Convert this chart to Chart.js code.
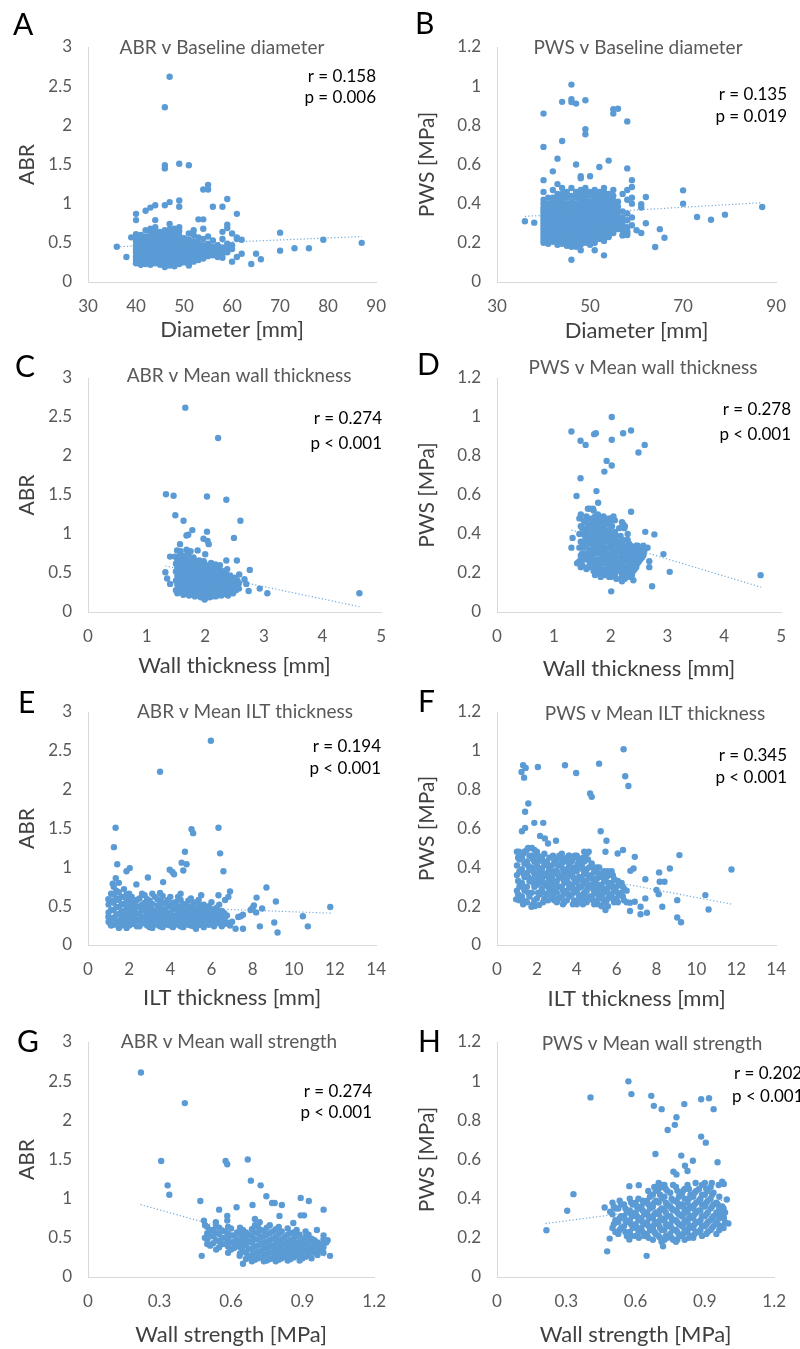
<!DOCTYPE html>
<html>
<head>
<meta charset="utf-8">
<script src="https://cdn.jsdelivr.net/npm/chart.js@4.4.1/dist/chart.umd.min.js"></script>
<style>
  html, body { margin: 0; padding: 0; background: #fff; overflow: hidden; }
  body { width: 800px; height: 1349px; position: relative; }
  canvas { position: absolute; }
</style>
</head>
<body>
<script>
// ---- tick labels ----
const abrTicks = [0, 0.5, 1, 1.5, 2, 2.5, 3];
const pwsTicks = [0, 0.2, 0.4, 0.6, 0.8, 1, 1.2];
const diameterTicksA = [30, 40, 50, 60, 70, 80, 90];
const diameterTicksB = [30, 50, 70, 90];
const wallTicks = [0, 1, 2, 3, 4, 5];
const iltTicks = [0, 2, 4, 6, 8, 10, 12, 14];
const strengthTicks = [0, 0.3, 0.6, 0.9, 1.2];

// ---- A: ABR v diameter (rows: diameter, ABR values) ----
const abrDiameterRows = [
  [40, [0.24, 0.28, 0.33, 0.38, 0.42, 0.47, 0.52, 0.57, 0.61]],
  [41, [0.22, 0.26, 0.31, 0.35, 0.40, 0.45, 0.50, 0.55, 0.60]],
  [42, [0.23, 0.27, 0.30, 0.36, 0.41, 0.44, 0.49, 0.54, 0.58, 0.66]],
  [43, [0.22, 0.25, 0.29, 0.34, 0.39, 0.43, 0.48, 0.53, 0.63, 0.68]],
  [44, [0.24, 0.28, 0.32, 0.37, 0.41, 0.46, 0.51, 0.56, 0.62, 0.70]],
  [45, [0.22, 0.26, 0.30, 0.35, 0.40, 0.44, 0.50, 0.57, 0.64]],
  [46, [0.24, 0.29, 0.33, 0.38, 0.42, 0.47, 0.52, 0.58, 0.66]],
  [47, [0.21, 0.25, 0.30, 0.36, 0.41, 0.45, 0.49, 0.55, 0.61, 0.67]],
  [48, [0.26, 0.31, 0.35, 0.40, 0.46, 0.51, 0.56, 0.62, 0.68]],
  [49, [0.23, 0.27, 0.33, 0.38, 0.43, 0.48, 0.53, 0.59, 0.65, 0.70]],
  [50, [0.25, 0.29, 0.34, 0.40, 0.44, 0.50, 0.56]],
  [51, [0.27, 0.32, 0.37, 0.42, 0.47, 0.54, 0.62]],
  [52, [0.26, 0.31, 0.36, 0.41, 0.46, 0.52, 0.60, 0.66]],
  [53, [0.28, 0.34, 0.39, 0.44, 0.50, 0.57]],
  [54, [0.30, 0.35, 0.40, 0.47, 0.55, 0.68]],
  [55, [0.33, 0.38, 0.43, 0.49, 0.58]],
  [56, [0.34, 0.40, 0.45, 0.53]],
  [57, [0.32, 0.37, 0.42, 0.47]],
  [58, [0.36, 0.41, 0.44, 0.55, 0.64]],
  [59, [0.38, 0.44, 0.49, 0.69]],
  [60, [0.42, 0.47]],
  [61, [0.55]]
];
const abrDiameterRows2 = [
  [40, [0.31, 0.45, 0.55]],
  [41, [0.29, 0.38, 0.48]],
  [42, [0.25, 0.33, 0.47, 0.52]],
  [43, [0.31, 0.37, 0.46, 0.58]],
  [44, [0.26, 0.35, 0.44, 0.66]],
  [45, [0.24, 0.33, 0.38, 0.47, 0.54]],
  [46, [0.27, 0.36, 0.45, 0.62]],
  [47, [0.28, 0.39, 0.52, 0.58]],
  [48, [0.23, 0.29, 0.38, 0.44, 0.54]],
  [49, [0.30, 0.36, 0.46, 0.56]],
  [50, [0.27, 0.37, 0.47]],
  [51, [0.24, 0.35, 0.45]],
  [52, [0.29, 0.39, 0.49]],
  [53, [0.31, 0.42, 0.47]],
  [54, [0.33, 0.38, 0.44]],
  [55, [0.36, 0.41, 0.46]]
];
const abrDiameterExtra = [
  [47, 2.62], [46, 2.23], [46, 1.49], [46, 1.45], [49, 1.51], [51, 1.49], [55, 1.24], [54, 1.18],
  [55, 1.18], [59, 1.06], [49, 1.04], [49, 0.96], [47, 1.02], [46, 0.98], [44, 0.98], [43, 0.95],
  [42, 0.91], [40, 0.87], [40, 0.79], [56, 0.96], [58, 0.96], [61, 0.87], [53, 0.80], [54, 0.80],
  [44, 0.79], [59, 0.73], [47, 0.74], [70, 0.63], [79, 0.54], [87, 0.50], [36, 0.45], [38, 0.32],
  [70, 0.40], [73, 0.43], [76, 0.43], [65, 0.36], [66, 0.29], [64, 0.23], [60, 0.26], [61, 0.32],
  [62, 0.36], [58, 0.31], [60, 0.62], [61, 0.57], [62, 0.54], [46, 0.19], [48, 0.20], [51, 0.21],
  [39, 0.57]
];
const abrDiameterTrend = [[36, 0.45], [87, 0.58]];

// ---- B: PWS v diameter ----
const pwsDiameterRows = [
  [40, [0.20, 0.23, 0.26, 0.29, 0.32, 0.35, 0.38, 0.40, 0.46]],
  [41, [0.21, 0.24, 0.27, 0.31, 0.34, 0.37, 0.40]],
  [42, [0.22, 0.25, 0.28, 0.30, 0.33, 0.36, 0.39, 0.43, 0.47]],
  [43, [0.19, 0.23, 0.26, 0.29, 0.32, 0.35, 0.38, 0.42, 0.50]],
  [44, [0.21, 0.24, 0.27, 0.30, 0.33, 0.37, 0.41, 0.45]],
  [45, [0.20, 0.23, 0.26, 0.29, 0.31, 0.34, 0.38, 0.43]],
  [46, [0.18, 0.22, 0.25, 0.28, 0.31, 0.35, 0.39, 0.44, 0.48]],
  [47, [0.18, 0.21, 0.24, 0.27, 0.30, 0.33, 0.36, 0.40, 0.46]],
  [48, [0.19, 0.22, 0.26, 0.29, 0.32, 0.35, 0.38, 0.42, 0.47]],
  [49, [0.20, 0.23, 0.25, 0.28, 0.31, 0.34, 0.37, 0.41, 0.45, 0.48]],
  [50, [0.19, 0.22, 0.26, 0.29, 0.32, 0.36, 0.39, 0.44]],
  [51, [0.20, 0.24, 0.27, 0.30, 0.34, 0.38, 0.42, 0.47]],
  [52, [0.22, 0.25, 0.29, 0.33, 0.37, 0.41, 0.46]],
  [53, [0.21, 0.26, 0.30, 0.34, 0.39, 0.44, 0.48]],
  [54, [0.23, 0.28, 0.32, 0.36, 0.40, 0.45]],
  [55, [0.25, 0.30, 0.35, 0.39, 0.44, 0.47]],
  [56, [0.27, 0.31, 0.36, 0.41]],
  [57, [0.24, 0.29, 0.33, 0.45]],
  [58, [0.24, 0.28, 0.35, 0.42, 0.47]],
  [59, [0.33, 0.40, 0.43]]
];
const pwsDiameterRows2 = [
  [40, [0.215, 0.245, 0.275, 0.305, 0.335, 0.365, 0.42]],
  [41, [0.195, 0.225, 0.255, 0.29, 0.325, 0.355, 0.385, 0.43]],
  [42, [0.205, 0.235, 0.265, 0.315, 0.345, 0.375, 0.41]],
  [43, [0.21, 0.245, 0.275, 0.305, 0.335, 0.365, 0.40, 0.45]],
  [44, [0.195, 0.225, 0.255, 0.285, 0.315, 0.35, 0.39, 0.43, 0.48]],
  [45, [0.185, 0.215, 0.245, 0.275, 0.30, 0.325, 0.36, 0.40, 0.46]],
  [46, [0.20, 0.235, 0.265, 0.295, 0.33, 0.37, 0.41]],
  [47, [0.195, 0.225, 0.255, 0.285, 0.315, 0.345, 0.38, 0.43]],
  [48, [0.205, 0.24, 0.275, 0.305, 0.335, 0.365, 0.40, 0.445]],
  [49, [0.215, 0.24, 0.265, 0.295, 0.325, 0.355, 0.39, 0.43, 0.465]],
  [50, [0.205, 0.24, 0.275, 0.305, 0.34, 0.375, 0.41, 0.46]],
  [51, [0.22, 0.255, 0.285, 0.32, 0.36, 0.40, 0.445]],
  [52, [0.235, 0.27, 0.31, 0.35, 0.39, 0.435]],
  [53, [0.235, 0.28, 0.32, 0.365, 0.415, 0.46]],
  [54, [0.255, 0.30, 0.34, 0.38, 0.425]],
  [55, [0.275, 0.325, 0.37, 0.415]],
  [56, [0.29, 0.335, 0.385]],
  [57, [0.265, 0.31, 0.36]],
  [58, [0.26, 0.315]]
];
const pwsDiameterExtra = [
  [46, 1.008], [44, 0.92], [46, 0.933], [46, 0.919], [47, 0.911], [49, 0.928], [40, 0.86], [55, 0.882],
  [56, 0.885], [55, 0.86], [58, 0.82], [49, 0.78], [49, 0.754], [44, 0.72], [40, 0.69], [43, 0.63],
  [47, 0.60], [54, 0.62], [52, 0.587], [42, 0.565], [58, 0.58], [40, 0.52], [48, 0.54], [48, 0.53],
  [50, 0.54], [70, 0.468], [70, 0.40], [62, 0.434], [59, 0.52], [59, 0.485], [61, 0.397], [61, 0.38],
  [73, 0.332], [76, 0.318], [79, 0.344], [87, 0.383], [65, 0.27], [66, 0.226], [64, 0.179], [62, 0.30],
  [61, 0.25], [60, 0.264], [36, 0.31], [38, 0.303], [46, 0.114], [53, 0.136], [51, 0.162], [48, 0.162],
  [54, 0.238], [57, 0.238], [58, 0.25], [59, 0.29]
];
const pwsDiameterTrend = [[36, 0.335], [87, 0.405]];

// ---- C: ABR v wall thickness ----
const abrWallRows = [
  [1.50, [0.28, 0.40, 0.52, 0.62]],
  [1.55, [0.32, 0.45, 0.58, 0.70]],
  [1.60, [0.26, 0.36, 0.48, 0.55, 0.66]],
  [1.65, [0.30, 0.41, 0.50, 0.60, 0.72]],
  [1.70, [0.24, 0.34, 0.44, 0.53, 0.63, 0.76]],
  [1.75, [0.27, 0.37, 0.46, 0.56, 0.68]],
  [1.80, [0.22, 0.31, 0.40, 0.49, 0.58, 0.70]],
  [1.85, [0.25, 0.33, 0.42, 0.51, 0.62]],
  [1.90, [0.21, 0.29, 0.38, 0.46, 0.55, 0.66]],
  [1.95, [0.24, 0.32, 0.41, 0.49, 0.58]],
  [2.00, [0.18, 0.27, 0.35, 0.44, 0.52, 0.61]],
  [2.05, [0.22, 0.30, 0.38, 0.47, 0.56]],
  [2.10, [0.20, 0.28, 0.36, 0.43, 0.51, 0.63]],
  [2.15, [0.24, 0.32, 0.40, 0.48, 0.57]],
  [2.20, [0.21, 0.29, 0.37, 0.45, 0.54]],
  [2.25, [0.26, 0.34, 0.42, 0.50, 0.60]],
  [2.30, [0.23, 0.31, 0.39, 0.46]],
  [2.35, [0.27, 0.35, 0.43, 0.52]],
  [2.40, [0.24, 0.30, 0.38, 0.45]],
  [2.45, [0.28, 0.34, 0.41]],
  [2.50, [0.31, 0.37, 0.44]],
  [2.55, [0.33, 0.40]]
];
const abrWallRows2 = [
  [1.525, [0.24, 0.35, 0.46, 0.57, 0.67]],
  [1.575, [0.29, 0.39, 0.51, 0.62, 0.74]],
  [1.625, [0.22, 0.33, 0.44, 0.53, 0.64]],
  [1.675, [0.27, 0.37, 0.47, 0.57, 0.68]],
  [1.725, [0.21, 0.30, 0.40, 0.50, 0.60, 0.71]],
  [1.775, [0.25, 0.34, 0.43, 0.52, 0.63]],
  [1.825, [0.20, 0.28, 0.37, 0.45, 0.55, 0.66]],
  [1.875, [0.23, 0.31, 0.40, 0.48, 0.58]],
  [1.925, [0.19, 0.27, 0.35, 0.43, 0.52, 0.62]],
  [1.975, [0.22, 0.30, 0.38, 0.46, 0.55, 0.65]],
  [2.025, [0.20, 0.25, 0.33, 0.41, 0.50, 0.59]],
  [2.075, [0.19, 0.27, 0.35, 0.43, 0.53]],
  [2.125, [0.23, 0.31, 0.39, 0.46, 0.55]],
  [2.175, [0.20, 0.27, 0.35, 0.43, 0.52, 0.61]],
  [2.225, [0.24, 0.32, 0.40, 0.48, 0.57]],
  [2.275, [0.21, 0.29, 0.37, 0.44, 0.53]],
  [2.325, [0.25, 0.33, 0.41, 0.49]],
  [2.375, [0.22, 0.29, 0.36, 0.44, 0.55]],
  [2.425, [0.26, 0.32, 0.39, 0.47]],
  [2.475, [0.24, 0.30, 0.36, 0.42]],
  [2.525, [0.28, 0.35, 0.41]],
  [2.575, [0.30, 0.37]]
];
const abrWallExtra = [
  [1.66, 2.62], [2.22, 2.23], [1.33, 1.51], [1.46, 1.49], [2.03, 1.48], [2.36, 1.44], [1.49, 1.24],
  [1.63, 1.17], [2.60, 1.17], [1.78, 1.05], [1.71, 0.99], [1.68, 0.98], [2.03, 1.03], [1.57, 0.87],
  [1.97, 0.94], [2.04, 0.91], [2.06, 0.87], [2.49, 0.95], [2.00, 0.74], [1.87, 0.79], [1.40, 0.71],
  [1.48, 0.71], [2.36, 0.66], [2.54, 0.66], [2.76, 0.54], [1.32, 0.51], [1.35, 0.43], [1.40, 0.36],
  [2.58, 0.48], [2.67, 0.42], [2.70, 0.36], [2.74, 0.27], [2.93, 0.30], [3.06, 0.24], [4.63, 0.24],
  [1.99, 0.16], [2.39, 0.21], [1.52, 0.79], [1.58, 0.78], [1.75, 0.78], [1.68, 0.80]
];
const abrWallTrend = [[1.32, 0.59], [4.65, 0.065]];

// ---- D: PWS v wall thickness ----
const pwsWallRows = [
  [1.45, [0.26, 0.33, 0.40, 0.48]],
  [1.50, [0.24, 0.30, 0.36, 0.43]],
  [1.55, [0.27, 0.34, 0.39, 0.46]],
  [1.60, [0.23, 0.29, 0.35, 0.41, 0.48, 0.53]],
  [1.65, [0.25, 0.31, 0.37, 0.44]],
  [1.70, [0.21, 0.27, 0.33, 0.39, 0.46, 0.52]],
  [1.75, [0.24, 0.30, 0.35, 0.41, 0.47]],
  [1.80, [0.20, 0.26, 0.32, 0.38, 0.44, 0.49]],
  [1.85, [0.22, 0.28, 0.34, 0.40, 0.46]],
  [1.90, [0.19, 0.25, 0.30, 0.36, 0.42, 0.48]],
  [1.95, [0.21, 0.27, 0.33, 0.39, 0.45]],
  [2.00, [0.18, 0.24, 0.29, 0.35, 0.40, 0.47]],
  [2.05, [0.20, 0.26, 0.31, 0.37, 0.49]],
  [2.10, [0.17, 0.23, 0.28, 0.34, 0.39]],
  [2.15, [0.21, 0.26, 0.32, 0.43]],
  [2.20, [0.19, 0.24, 0.30, 0.36, 0.46]],
  [2.25, [0.17, 0.22, 0.28, 0.33, 0.44]],
  [2.30, [0.20, 0.26, 0.31, 0.37, 0.40]],
  [2.35, [0.18, 0.24, 0.29, 0.34]],
  [2.40, [0.21, 0.27, 0.32]],
  [2.45, [0.23, 0.29, 0.34]],
  [2.50, [0.26, 0.31]],
  [2.55, [0.28, 0.33]],
  [2.60, [0.32]]
];
const pwsWallRows2 = [
  [1.475, [0.23, 0.29, 0.36, 0.44, 0.50]],
  [1.525, [0.27, 0.33, 0.40, 0.47]],
  [1.575, [0.22, 0.30, 0.36, 0.43, 0.49]],
  [1.625, [0.26, 0.32, 0.38, 0.45]],
  [1.675, [0.23, 0.29, 0.35, 0.41, 0.48]],
  [1.725, [0.19, 0.25, 0.31, 0.37, 0.43, 0.49]],
  [1.775, [0.22, 0.27, 0.33, 0.38, 0.44, 0.50]],
  [1.825, [0.18, 0.24, 0.30, 0.35, 0.41, 0.47]],
  [1.875, [0.20, 0.26, 0.32, 0.37, 0.43, 0.49]],
  [1.925, [0.22, 0.28, 0.33, 0.39, 0.45]],
  [1.975, [0.18, 0.24, 0.30, 0.36, 0.42, 0.48]],
  [2.025, [0.21, 0.27, 0.33, 0.38, 0.44]],
  [2.075, [0.19, 0.25, 0.30, 0.35, 0.41, 0.47]],
  [2.125, [0.21, 0.26, 0.31, 0.36]],
  [2.175, [0.17, 0.23, 0.28, 0.34, 0.39]],
  [2.225, [0.20, 0.26, 0.31, 0.37]],
  [2.275, [0.18, 0.23, 0.29, 0.34]],
  [2.325, [0.21, 0.27, 0.32, 0.35]],
  [2.375, [0.19, 0.25, 0.30]],
  [2.425, [0.22, 0.28, 0.33]],
  [2.475, [0.25, 0.30, 0.34]],
  [2.525, [0.27, 0.32]],
  [2.575, [0.29, 0.34]]
];
const pwsWallExtra = [
  [2.02, 1.0], [1.31, 0.926], [1.47, 0.878], [1.56, 0.857], [1.71, 0.912], [1.74, 0.917], [2.02, 0.883],
  [2.22, 0.917], [2.36, 0.931], [2.60, 0.857], [2.49, 0.818], [1.93, 0.775], [2.02, 0.751], [1.89, 0.72],
  [1.47, 0.686], [1.75, 0.62], [1.40, 0.595], [1.78, 0.56], [1.63, 0.53], [1.69, 0.53], [2.36, 0.514],
  [2.61, 0.411], [2.77, 0.398], [2.93, 0.297], [2.68, 0.26], [2.68, 0.23], [3.04, 0.206], [4.64, 0.189],
  [2.73, 0.132], [2.01, 0.106], [2.40, 0.163], [2.20, 0.158], [1.33, 0.38], [1.31, 0.33], [1.41, 0.25],
  [1.46, 0.26], [2.22, 0.45], [2.24, 0.43], [2.65, 0.33], [2.58, 0.30]
];
const pwsWallTrend = [[1.31, 0.42], [4.65, 0.127]];

// ---- E: ABR v ILT thickness ----
const abrIltRows = [
  [1.00, [0.30, 0.42, 0.52]],
  [1.25, [0.26, 0.35, 0.45, 0.55, 0.65, 0.75]],
  [1.50, [0.22, 0.31, 0.40, 0.49, 0.58, 0.68, 0.80]],
  [1.75, [0.28, 0.36, 0.44, 0.53, 0.62, 0.72]],
  [2.00, [0.25, 0.33, 0.41, 0.50, 0.59, 0.66]],
  [2.25, [0.29, 0.37, 0.46, 0.55]],
  [2.50, [0.24, 0.32, 0.40, 0.49, 0.60]],
  [2.75, [0.28, 0.36, 0.45, 0.54, 0.64]],
  [3.00, [0.23, 0.31, 0.39, 0.48, 0.57]],
  [3.25, [0.27, 0.35, 0.44, 0.62]],
  [3.50, [0.24, 0.32, 0.40, 0.49, 0.58, 0.67]],
  [3.75, [0.28, 0.36, 0.45, 0.54]],
  [4.00, [0.25, 0.33, 0.41, 0.50, 0.62]],
  [4.25, [0.29, 0.37, 0.46, 0.55]],
  [4.50, [0.24, 0.32, 0.40, 0.48, 0.58, 0.66]],
  [4.75, [0.27, 0.35, 0.43, 0.52]],
  [5.00, [0.25, 0.33, 0.40, 0.49, 0.60]],
  [5.25, [0.21, 0.29, 0.37, 0.45, 0.55]],
  [5.50, [0.26, 0.34, 0.42, 0.51, 0.64]],
  [5.75, [0.30, 0.38, 0.47]],
  [6.00, [0.27, 0.35, 0.43, 0.55]],
  [6.25, [0.31, 0.39, 0.48]],
  [6.50, [0.24, 0.34, 0.44]],
  [6.75, [0.29, 0.38]]
];
const abrIltRows2 = [
  [1.125, [0.25, 0.34, 0.45, 0.57, 0.66]],
  [1.375, [0.29, 0.39, 0.49, 0.60, 0.70]],
  [1.625, [0.25, 0.34, 0.43, 0.52, 0.62]],
  [1.875, [0.22, 0.30, 0.39, 0.47, 0.57, 0.65]],
  [2.125, [0.27, 0.35, 0.44, 0.53, 0.62]],
  [2.375, [0.24, 0.32, 0.41, 0.50, 0.58]],
  [2.625, [0.28, 0.36, 0.44, 0.52, 0.66]],
  [2.875, [0.25, 0.33, 0.41, 0.50, 0.59]],
  [3.125, [0.22, 0.29, 0.37, 0.45, 0.53, 0.66]],
  [3.375, [0.26, 0.34, 0.42, 0.51, 0.59]],
  [3.625, [0.23, 0.30, 0.38, 0.46, 0.55, 0.63]],
  [3.875, [0.26, 0.34, 0.42, 0.50, 0.58]],
  [4.125, [0.23, 0.30, 0.38, 0.46, 0.54]],
  [4.375, [0.26, 0.34, 0.42, 0.50, 0.62]],
  [4.625, [0.23, 0.30, 0.37, 0.45, 0.53]],
  [4.875, [0.26, 0.33, 0.41, 0.48, 0.57]],
  [5.125, [0.24, 0.31, 0.38, 0.46, 0.53]],
  [5.375, [0.26, 0.33, 0.40, 0.48, 0.58]],
  [5.625, [0.23, 0.30, 0.37, 0.44, 0.52]],
  [5.875, [0.26, 0.33, 0.40, 0.50]],
  [6.125, [0.24, 0.31, 0.38, 0.46]],
  [6.375, [0.28, 0.35, 0.42, 0.52]],
  [6.625, [0.27, 0.34, 0.41]]
];
const abrIltExtra = [
  [5.97, 2.63], [3.50, 2.23], [1.34, 1.51], [1.26, 1.26], [5.03, 1.49], [5.11, 1.44], [6.34, 1.51],
  [6.42, 1.18], [4.71, 1.20], [1.42, 1.04], [4.55, 1.06], [4.79, 1.04], [6.58, 0.95], [1.87, 0.95],
  [2.03, 0.99], [3.97, 0.97], [4.10, 0.94], [4.18, 0.91], [4.63, 0.96], [2.91, 0.87], [3.65, 0.81],
  [2.35, 0.78], [8.67, 0.74], [9.13, 0.56], [11.77, 0.49], [10.44, 0.37], [10.68, 0.24], [9.21, 0.16],
  [9.05, 0.29], [8.35, 0.24], [8.46, 0.47], [8.19, 0.61], [8.06, 0.51], [8.17, 0.42], [7.53, 0.39],
  [7.42, 0.37], [7.30, 0.36], [7.53, 0.21], [7.17, 0.21], [6.90, 0.69], [6.82, 0.62], [6.66, 0.58],
  [6.34, 0.64], [0.99, 0.59], [0.99, 0.36], [1.07, 0.28], [1.35, 0.86], [1.20, 0.79], [7.90, 0.45],
  [8.00, 0.48], [7.00, 0.30], [6.90, 0.25]
];
const abrIltTrend = [[1.0, 0.515], [11.8, 0.41]];

// ---- F: PWS v ILT thickness ----
const pwsIltRows = [
  [1.00, [0.28, 0.36, 0.41, 0.48]],
  [1.25, [0.25, 0.32, 0.39, 0.45]],
  [1.50, [0.22, 0.30, 0.37, 0.43, 0.49]],
  [1.75, [0.27, 0.34, 0.40, 0.46, 0.50]],
  [2.00, [0.24, 0.31, 0.36, 0.42, 0.48]],
  [2.25, [0.29, 0.34, 0.39, 0.45]],
  [2.50, [0.26, 0.32, 0.37, 0.43]],
  [2.75, [0.24, 0.30, 0.35, 0.41]],
  [3.00, [0.22, 0.27, 0.33, 0.38, 0.44]],
  [3.25, [0.25, 0.30, 0.36, 0.42, 0.47]],
  [3.50, [0.23, 0.28, 0.34, 0.39, 0.45]],
  [3.75, [0.26, 0.31, 0.37, 0.43]],
  [4.00, [0.21, 0.27, 0.32, 0.38, 0.46]],
  [4.25, [0.24, 0.30, 0.35, 0.41]],
  [4.50, [0.22, 0.28, 0.33, 0.39, 0.47]],
  [4.75, [0.25, 0.31, 0.36, 0.42]],
  [5.00, [0.23, 0.28, 0.34, 0.40]],
  [5.25, [0.20, 0.26, 0.31, 0.37]],
  [5.50, [0.23, 0.29, 0.35]],
  [5.75, [0.26, 0.32, 0.38]],
  [6.00, [0.24, 0.30]],
  [6.25, [0.27, 0.32]],
  [6.50, [0.22, 0.28]]
];
const pwsIltRows2 = [
  [1.125, [0.23, 0.30, 0.38, 0.44]],
  [1.375, [0.28, 0.35, 0.42, 0.48]],
  [1.625, [0.25, 0.33, 0.39, 0.46]],
  [1.875, [0.23, 0.30, 0.37, 0.43, 0.49]],
  [2.125, [0.26, 0.32, 0.38, 0.44]],
  [2.375, [0.24, 0.31, 0.36, 0.41, 0.47]],
  [2.625, [0.28, 0.34, 0.39, 0.45]],
  [2.875, [0.23, 0.28, 0.33, 0.38, 0.43]],
  [3.125, [0.24, 0.30, 0.35, 0.41, 0.46]],
  [3.375, [0.22, 0.27, 0.32, 0.37, 0.43]],
  [3.625, [0.25, 0.30, 0.36, 0.41, 0.46]],
  [3.875, [0.23, 0.28, 0.34, 0.40, 0.45]],
  [4.125, [0.25, 0.30, 0.35, 0.40, 0.44]],
  [4.375, [0.23, 0.27, 0.32, 0.37, 0.43, 0.48]],
  [4.625, [0.25, 0.30, 0.35, 0.40]],
  [4.875, [0.21, 0.27, 0.32, 0.38]],
  [5.125, [0.24, 0.29, 0.35, 0.40]],
  [5.375, [0.22, 0.27, 0.33, 0.38]],
  [5.625, [0.25, 0.30, 0.36]],
  [5.875, [0.22, 0.28, 0.34]],
  [6.125, [0.26, 0.31]],
  [6.375, [0.23, 0.29]]
];
const pwsIltRows3 = [
  [1.06, [0.26, 0.33, 0.45]],
  [1.31, [0.21, 0.30, 0.37, 0.47]],
  [1.56, [0.27, 0.35, 0.41, 0.50]],
  [1.81, [0.21, 0.32, 0.38, 0.44]],
  [2.06, [0.27, 0.34, 0.40, 0.46]],
  [2.31, [0.22, 0.27, 0.36, 0.43]],
  [2.56, [0.23, 0.30, 0.35, 0.41]],
  [2.81, [0.26, 0.32, 0.37, 0.46]],
  [3.06, [0.24, 0.30, 0.36, 0.41]],
  [3.31, [0.21, 0.28, 0.34, 0.39, 0.44]],
  [3.56, [0.26, 0.32, 0.37, 0.43]],
  [3.81, [0.21, 0.29, 0.35, 0.39]],
  [4.06, [0.23, 0.29, 0.34, 0.42]],
  [4.31, [0.21, 0.26, 0.33, 0.39, 0.45]],
  [4.56, [0.24, 0.30, 0.36, 0.44]],
  [4.81, [0.23, 0.29, 0.34, 0.40]],
  [5.06, [0.21, 0.26, 0.31, 0.37]],
  [5.31, [0.24, 0.29, 0.35]],
  [5.56, [0.20, 0.27, 0.32, 0.38]],
  [5.81, [0.24, 0.30, 0.36]],
  [6.06, [0.22, 0.27, 0.33]],
  [6.31, [0.25, 0.30]]
];
const pwsIltExtra = [
  [6.35, 1.008], [1.31, 0.926], [1.44, 0.912], [1.23, 0.891], [1.36, 0.862], [2.05, 0.917], [3.41, 0.926],
  [3.97, 0.886], [5.12, 0.934], [6.43, 0.869], [6.59, 0.819], [4.67, 0.78], [4.75, 0.763], [1.57, 0.729],
  [1.41, 0.686], [1.41, 0.603], [1.25, 0.586], [1.87, 0.629], [2.32, 0.629], [2.16, 0.562], [2.40, 0.549],
  [2.56, 0.523], [2.96, 0.537], [5.20, 0.586], [5.49, 0.537], [5.44, 0.48], [6.05, 0.471], [6.32, 0.489],
  [6.91, 0.454], [9.15, 0.463], [8.67, 0.394], [11.76, 0.389], [8.13, 0.374], [6.85, 0.394], [6.69, 0.382],
  [7.44, 0.339], [8.16, 0.326], [8.40, 0.326], [8.00, 0.283], [8.11, 0.262], [10.45, 0.257], [9.04, 0.231],
  [8.29, 0.197], [10.61, 0.183], [9.04, 0.142], [9.23, 0.117], [7.52, 0.166], [7.20, 0.158], [6.67, 0.175],
  [6.67, 0.218], [7.20, 0.197], [6.91, 0.223], [7.44, 0.24], [0.96, 0.235], [1.41, 0.226], [1.73, 0.197],
  [1.89, 0.20], [2.11, 0.206], [5.44, 0.18], [3.60, 0.46], [3.90, 0.46], [4.60, 0.48], [1.10, 0.48]
];
const pwsIltTrend = [[0.96, 0.42], [11.8, 0.21]];

// ---- G: ABR v wall strength ----
const abrStrengthRows = [
  [0.500, [0.48, 0.56, 0.64]],
  [0.525, [0.43, 0.52, 0.60]],
  [0.550, [0.38, 0.46, 0.55, 0.63]],
  [0.575, [0.42, 0.50, 0.58]],
  [0.600, [0.35, 0.44, 0.53, 0.62]],
  [0.625, [0.40, 0.48, 0.57]],
  [0.650, [0.33, 0.42, 0.51, 0.60]],
  [0.675, [0.26, 0.36, 0.45, 0.54]],
  [0.700, [0.22, 0.30, 0.39, 0.48, 0.57, 0.66]],
  [0.725, [0.25, 0.33, 0.42, 0.51, 0.60]],
  [0.750, [0.21, 0.29, 0.37, 0.45, 0.54, 0.63]],
  [0.775, [0.24, 0.32, 0.40, 0.49, 0.58]],
  [0.800, [0.22, 0.30, 0.38, 0.46, 0.55, 0.64]],
  [0.825, [0.26, 0.34, 0.42, 0.51]],
  [0.850, [0.23, 0.31, 0.39, 0.47, 0.56]],
  [0.875, [0.27, 0.35, 0.43, 0.52, 0.60]],
  [0.900, [0.24, 0.32, 0.40, 0.48]],
  [0.925, [0.28, 0.36, 0.45, 0.54]],
  [0.950, [0.31, 0.39, 0.47]],
  [0.975, [0.34, 0.42]]
];
const abrStrengthRows2 = [
  [0.5125, [0.40, 0.52, 0.60]],
  [0.5375, [0.35, 0.47, 0.56, 0.65]],
  [0.5625, [0.42, 0.50, 0.59]],
  [0.5875, [0.31, 0.39, 0.47, 0.55, 0.64]],
  [0.6125, [0.37, 0.45, 0.53]],
  [0.6375, [0.30, 0.38, 0.46, 0.55, 0.63]],
  [0.6625, [0.23, 0.31, 0.40, 0.48, 0.57]],
  [0.6875, [0.20, 0.28, 0.36, 0.44, 0.52, 0.61]],
  [0.7125, [0.24, 0.32, 0.40, 0.48, 0.56, 0.64]],
  [0.7375, [0.20, 0.28, 0.36, 0.44, 0.52, 0.59]],
  [0.7625, [0.23, 0.31, 0.39, 0.47, 0.56, 0.66]],
  [0.7875, [0.20, 0.27, 0.35, 0.43, 0.51, 0.61]],
  [0.8125, [0.24, 0.32, 0.40, 0.48, 0.58]],
  [0.8375, [0.21, 0.29, 0.37, 0.45, 0.54, 0.62]],
  [0.8625, [0.25, 0.33, 0.41, 0.49, 0.57]],
  [0.8875, [0.21, 0.29, 0.37, 0.45, 0.54]],
  [0.9125, [0.26, 0.34, 0.42, 0.51, 0.58]],
  [0.9375, [0.24, 0.33, 0.41, 0.49]],
  [0.9625, [0.28, 0.36, 0.44]],
  [0.9875, [0.31, 0.38, 0.48]]
];
const abrStrengthExtra = [
  [0.222, 2.61], [0.406, 2.22], [0.307, 1.48], [0.334, 1.17], [0.341, 1.05], [0.577, 1.48], [0.584, 1.44],
  [0.670, 1.50], [0.683, 1.23], [0.724, 1.17], [0.471, 0.97], [0.550, 0.86], [0.623, 0.89], [0.690, 0.92],
  [0.748, 1.03], [0.772, 0.945], [0.783, 0.945], [0.813, 0.92], [0.892, 1.01], [0.926, 0.97], [0.988, 0.86],
  [0.892, 0.787], [0.906, 0.787], [0.803, 0.78], [0.861, 0.69], [0.584, 0.78], [0.584, 0.72], [0.536, 0.70],
  [0.486, 0.72], [0.491, 0.66], [0.477, 0.27], [0.650, 0.17], [0.636, 0.27], [1.015, 0.27], [1.005, 0.47],
  [0.999, 0.44], [0.988, 0.53], [0.960, 0.60], [0.700, 0.74], [0.720, 0.70], [0.490, 0.50], [0.500, 0.42]
];
const abrStrengthTrend = [[0.22, 0.925], [1.02, 0.245]];

// ---- H: PWS v wall strength ----
const pwsStrengthRows = [
  [0.500, [0.25, 0.32, 0.38]],
  [0.525, [0.22, 0.28, 0.35]],
  [0.550, [0.26, 0.31, 0.37]],
  [0.575, [0.23, 0.29, 0.34, 0.40]],
  [0.600, [0.21, 0.27, 0.33, 0.38]],
  [0.625, [0.25, 0.30, 0.36]],
  [0.650, [0.22, 0.28, 0.33, 0.39]],
  [0.675, [0.19, 0.25, 0.30, 0.36, 0.42]],
  [0.700, [0.21, 0.27, 0.32, 0.38, 0.45]],
  [0.725, [0.19, 0.24, 0.29, 0.35, 0.41, 0.47]],
  [0.750, [0.22, 0.27, 0.31, 0.36, 0.43]],
  [0.775, [0.18, 0.24, 0.29, 0.34, 0.39, 0.46]],
  [0.800, [0.21, 0.26, 0.31, 0.37, 0.42]],
  [0.825, [0.23, 0.28, 0.33, 0.38, 0.47]],
  [0.850, [0.20, 0.25, 0.30, 0.35, 0.41]],
  [0.875, [0.23, 0.28, 0.34, 0.39, 0.45]],
  [0.900, [0.26, 0.31, 0.36, 0.42, 0.48]],
  [0.925, [0.24, 0.29, 0.35, 0.40, 0.46]],
  [0.950, [0.22, 0.28, 0.33, 0.38]],
  [0.975, [0.26, 0.31, 0.36]]
];
const pwsStrengthRows2 = [
  [0.5125, [0.23, 0.29, 0.35]],
  [0.5375, [0.25, 0.31, 0.37]],
  [0.5625, [0.21, 0.28, 0.33]],
  [0.5875, [0.25, 0.31, 0.37]],
  [0.6125, [0.23, 0.29, 0.35, 0.40]],
  [0.6375, [0.21, 0.27, 0.32, 0.38]],
  [0.6625, [0.24, 0.30, 0.35, 0.41]],
  [0.6875, [0.22, 0.28, 0.33, 0.39, 0.44]],
  [0.7125, [0.18, 0.24, 0.30, 0.35, 0.40, 0.46]],
  [0.7375, [0.20, 0.26, 0.31, 0.37, 0.44]],
  [0.7625, [0.19, 0.24, 0.29, 0.34, 0.39, 0.47]],
  [0.7875, [0.21, 0.27, 0.32, 0.36, 0.41]],
  [0.8125, [0.19, 0.24, 0.29, 0.34, 0.40, 0.45]],
  [0.8375, [0.21, 0.26, 0.31, 0.36, 0.42]],
  [0.8625, [0.23, 0.28, 0.33, 0.38, 0.44]],
  [0.8875, [0.21, 0.26, 0.31, 0.37, 0.42, 0.47]],
  [0.9125, [0.23, 0.28, 0.33, 0.39, 0.44]],
  [0.9375, [0.26, 0.31, 0.37, 0.43]],
  [0.9625, [0.24, 0.30, 0.35, 0.41]],
  [0.9875, [0.28, 0.33]]
];
const pwsStrengthRows3 = [
  [0.506, [0.27, 0.36]],
  [0.531, [0.24, 0.30, 0.39]],
  [0.556, [0.23, 0.29, 0.35]],
  [0.581, [0.21, 0.27, 0.32, 0.38]],
  [0.606, [0.25, 0.31, 0.36]],
  [0.631, [0.23, 0.28, 0.34, 0.39]],
  [0.656, [0.20, 0.26, 0.31, 0.37]],
  [0.681, [0.23, 0.27, 0.32, 0.38, 0.46]],
  [0.706, [0.20, 0.25, 0.29, 0.34, 0.42]],
  [0.731, [0.21, 0.27, 0.33, 0.38, 0.45]],
  [0.756, [0.20, 0.25, 0.30, 0.35, 0.40]],
  [0.781, [0.19, 0.23, 0.28, 0.33, 0.38, 0.44]],
  [0.806, [0.22, 0.27, 0.32, 0.36, 0.44]],
  [0.831, [0.20, 0.25, 0.30, 0.35, 0.40, 0.45]],
  [0.856, [0.22, 0.27, 0.32, 0.37, 0.43]],
  [0.881, [0.24, 0.29, 0.34, 0.40]],
  [0.906, [0.22, 0.27, 0.32, 0.38, 0.45]],
  [0.931, [0.25, 0.30, 0.36, 0.42]],
  [0.956, [0.27, 0.32, 0.37]],
  [0.981, [0.25, 0.30, 0.35]]
];
const pwsStrengthExtra = [
  [0.569, 0.999], [0.405, 0.917], [0.582, 0.934], [0.668, 0.925], [0.679, 0.874], [0.713, 0.857], [0.811, 0.883],
  [0.884, 0.908], [0.918, 0.913], [0.938, 0.857], [0.777, 0.816], [0.770, 0.777], [0.739, 0.751], [0.884, 0.717],
  [0.904, 0.686], [0.686, 0.628], [0.798, 0.62], [0.848, 0.594], [0.955, 0.586], [0.814, 0.568], [0.825, 0.541],
  [0.764, 0.538], [0.777, 0.524], [0.331, 0.423], [0.304, 0.338], [0.214, 0.239], [0.477, 0.131], [0.648, 0.108],
  [0.719, 0.157], [0.573, 0.464], [0.614, 0.469], [0.655, 0.439], [0.975, 0.487], [0.982, 0.475], [0.995, 0.396],
  [1.002, 0.273], [0.982, 0.304], [0.975, 0.338], [0.466, 0.355], [0.490, 0.333], [0.488, 0.196], [0.573, 0.191],
  [0.614, 0.20], [0.700, 0.48], [0.720, 0.47], [0.860, 0.48], [0.930, 0.48], [0.960, 0.47]
];
const pwsStrengthTrend = [[0.21, 0.273], [1.0, 0.395]];

// ---- drawing ----
const FONT = 'Lato, "Open Sans", sans-serif';
const BLUE = '#5b9bd5';
const CANVAS_W = 400, CANVAS_H = 345;
const X_TITLE_SIZE = 22, Y_TITLE_SIZE = 21;

function toPoints(...groups) {
  const pts = [];
  groups.forEach(g => g.forEach(item => {
    if (Array.isArray(item[1])) item[1].forEach(y => pts.push({ x: item[0], y }));
    else pts.push({ x: item[0], y: item[1] });
  }));
  return pts;
}

const panelText = {
  id: 'panelText',
  afterDraw(chart) {
    const o = chart.options.plugins.panelText;
    const ctx = chart.ctx;
    ctx.save();
    ctx.textBaseline = 'alphabetic';
    ctx.fillStyle = '#000';
    ctx.font = '30px ' + FONT;
    ctx.textAlign = 'left';
    ctx.fillText(o.letter, o.letterAt[0], o.letterAt[1]);
    ctx.fillStyle = '#595959';
    ctx.font = '19px ' + FONT;
    ctx.textAlign = 'center';
    ctx.fillText(o.title, o.titleAt[0], o.titleAt[1]);
    ctx.fillStyle = '#000';
    ctx.font = '17px ' + FONT;
    ctx.textAlign = o.statAlign;
    ctx.fillText(o.stats[0], o.statAt[0], o.statAt[1]);
    ctx.fillText(o.stats[1], o.statAt[2], o.statAt[3]);
    ctx.restore();
  }
};

function fmt(v) { return String(+Number(v).toFixed(2)); }

function makePanel(p) {
  const cv = document.createElement('canvas');
  cv.width = CANVAS_W; cv.height = CANVAS_H;
  cv.style.left = p.left + 'px';
  cv.style.top = p.top + 'px';
  document.body.appendChild(cv);

  const L = p.area[0] - p.left, R = p.area[1] - p.left;
  const T = p.area[2] - p.top, B = p.area[3] - p.top;
  const loc = (xy) => [xy[0] - p.left, xy[1] - p.top];

  new Chart(cv, {
    type: 'scatter',
    data: {
      datasets: [
        {
          type: 'line',
          data: p.trend.map(([x, y]) => ({ x, y })),
          borderColor: 'rgba(91,155,213,0.85)',
          borderWidth: 1.2,
          borderDash: [1.2, 2.2],
          pointRadius: 0,
          fill: false,
          order: 1
        },
        {
          data: p.points,
          backgroundColor: BLUE,
          borderWidth: 0,
          pointRadius: 3.2,
          pointHoverRadius: 3.2,
          order: 2
        }
      ]
    },
    options: {
      responsive: false,
      animation: false,
      events: [],
      layout: { padding: { left: 0, top: T, right: CANVAS_W - R, bottom: 0 } },
      plugins: {
        legend: { display: false },
        tooltip: { enabled: false },
        panelText: {
          letter: p.letter,
          letterAt: loc(p.letterAt),
          title: p.title,
          titleAt: loc(p.titleAt),
          stats: p.stats,
          statAlign: p.statAlign,
          statAt: [...loc([p.statAt[0], p.statAt[1]]), ...loc([p.statAt[2], p.statAt[3]])]
        }
      },
      scales: {
        x: {
          type: 'linear',
          min: p.xTicks[0],
          max: p.xTicks[p.xTicks.length - 1],
          grid: { display: false, drawTicks: false },
          border: { display: true, color: '#d9d9d9', width: 1 },
          afterBuildTicks: s => { s.ticks = p.xTicks.map(v => ({ value: v })); },
          afterFit: s => { s.height = CANVAS_H - B; },
          ticks: {
            autoSkip: false, maxRotation: 0, padding: 14,
            color: '#595959', font: { family: FONT, size: 17 },
            callback: fmt
          },
          title: {
            display: true, text: p.xTitle, color: '#404040',
            font: { family: FONT, size: X_TITLE_SIZE },
            padding: { top: 0, bottom: CANVAS_H - (p.xTitleY - p.top) - X_TITLE_SIZE * 0.6 }
          }
        },
        y: {
          type: 'linear',
          min: p.yTicks[0],
          max: p.yTicks[p.yTicks.length - 1],
          grid: { display: false, drawTicks: false },
          border: { display: true, color: '#d9d9d9', width: 1 },
          afterBuildTicks: s => { s.ticks = p.yTicks.map(v => ({ value: v })); },
          afterFit: s => { s.width = L; },
          ticks: {
            autoSkip: false, padding: 16,
            color: '#595959', font: { family: FONT, size: 17 },
            callback: fmt
          },
          title: {
            display: true, text: p.yTitle, color: '#404040',
            font: { family: FONT, size: Y_TITLE_SIZE },
            padding: { top: 27.5 - Y_TITLE_SIZE * 0.6, bottom: 0 }
          }
        }
      }
    },
    plugins: [panelText]
  });
}

const panels = [
  { letter: 'A', left: 0, top: 0, area: [88, 378, 47, 282],
    points: toPoints(abrDiameterRows, abrDiameterRows2, abrDiameterExtra), trend: abrDiameterTrend,
    xTicks: diameterTicksA, yTicks: abrTicks, xTitle: 'Diameter [mm]', yTitle: 'ABR', xTitleY: 330,
    title: 'ABR v Baseline diameter', titleAt: [222, 54], letterAt: [13, 35],
    stats: ['r = 0.158', 'p = 0.006'], statAlign: 'right', statAt: [376, 82, 376, 103] },
  { letter: 'B', left: 400, top: 0, area: [497, 788, 47, 282],
    points: toPoints(pwsDiameterRows, pwsDiameterRows2, pwsDiameterExtra), trend: pwsDiameterTrend,
    xTicks: diameterTicksB, yTicks: pwsTicks, xTitle: 'Diameter [mm]', yTitle: 'PWS [MPa]', xTitleY: 331,
    title: 'PWS v Baseline diameter', titleAt: [638, 54], letterAt: [415, 34],
    stats: ['r = 0.135', 'p = 0.019'], statAlign: 'right', statAt: [787, 100, 787, 122] },
  { letter: 'C', left: 0, top: 335, area: [88, 385, 378, 612],
    points: toPoints(abrWallRows, abrWallRows2, abrWallExtra), trend: abrWallTrend,
    xTicks: wallTicks, yTicks: abrTicks, xTitle: 'Wall thickness [mm]', yTitle: 'ABR', xTitleY: 666,
    title: 'ABR v Mean wall thickness', titleAt: [239, 382], letterAt: [15, 377],
    stats: ['r = 0.274', 'p < 0.001'], statAlign: 'right', statAt: [382, 424, 382, 449] },
  { letter: 'D', left: 400, top: 335, area: [497, 793, 378, 612],
    points: toPoints(pwsWallRows, pwsWallRows2, pwsWallExtra), trend: pwsWallTrend,
    xTicks: wallTicks, yTicks: pwsTicks, xTitle: 'Wall thickness [mm]', yTitle: 'PWS [MPa]', xTitleY: 669,
    title: 'PWS v Mean wall thickness', titleAt: [643, 374], letterAt: [417, 375],
    stats: ['r = 0.278', 'p < 0.001'], statAlign: 'right', statAt: [791, 415, 791, 440] },
  { letter: 'E', left: 0, top: 670, area: [88, 380, 712, 945],
    points: toPoints(abrIltRows, abrIltRows2, abrIltExtra), trend: abrIltTrend,
    xTicks: iltTicks, yTicks: abrTicks, xTitle: 'ILT thickness [mm]', yTitle: 'ABR', xTitleY: 998,
    title: 'ABR v Mean ILT thickness', titleAt: [245, 718], letterAt: [18, 713],
    stats: ['r = 0.194', 'p < 0.001'], statAlign: 'right', statAt: [381, 752, 381, 774] },
  { letter: 'F', left: 400, top: 670, area: [497, 788, 712, 945],
    points: toPoints(pwsIltRows, pwsIltRows2, pwsIltRows3, pwsIltExtra), trend: pwsIltTrend,
    xTicks: iltTicks, yTicks: pwsTicks, xTitle: 'ILT thickness [mm]', yTitle: 'PWS [MPa]', xTitleY: 999,
    title: 'PWS v Mean ILT thickness', titleAt: [655, 720], letterAt: [418, 712],
    stats: ['r = 0.345', 'p < 0.001'], statAlign: 'right', statAt: [787, 761, 787, 783] },
  { letter: 'G', left: 0, top: 1005, area: [88, 380, 1042, 1277],
    points: toPoints(abrStrengthRows, abrStrengthRows2, abrStrengthExtra), trend: abrStrengthTrend,
    xTicks: strengthTicks, yTicks: abrTicks, xTitle: 'Wall strength [MPa]', yTitle: 'ABR', xTitleY: 1335,
    title: 'ABR v Mean wall strength', titleAt: [229, 1048], letterAt: [17, 1052],
    stats: ['r = 0.274', 'p < 0.001'], statAlign: 'right', statAt: [372, 1097, 372, 1118] },
  { letter: 'H', left: 400, top: 1005, area: [497, 790, 1042, 1277],
    points: toPoints(pwsStrengthRows, pwsStrengthRows2, pwsStrengthRows3, pwsStrengthExtra), trend: pwsStrengthTrend,
    xTicks: strengthTicks, yTicks: pwsTicks, xTitle: 'Wall strength [MPa]', yTitle: 'PWS [MPa]', xTitleY: 1335,
    title: 'PWS v Mean wall strength', titleAt: [652, 1050], letterAt: [418, 1052],
    stats: ['r = 0.202', 'p < 0.001'], statAlign: 'left', statAt: [734, 1079, 732, 1102] }
];

panels.forEach(makePanel);
</script>
</body>
</html>
